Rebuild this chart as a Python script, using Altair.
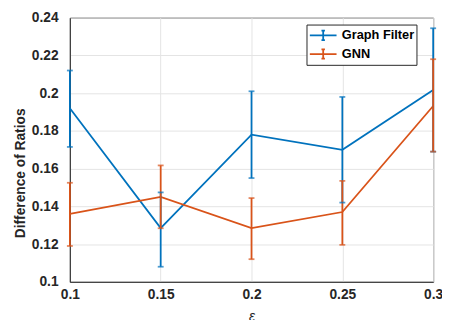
import altair as alt
import pandas as pd

eps = [0.1, 0.15, 0.2, 0.25, 0.3]
series = ["Graph Filter", "GNN"]
gf_mean = [0.192, 0.1285, 0.178, 0.170, 0.2017]
gf_lower = [0.1715, 0.108, 0.155, 0.142, 0.169]
gf_upper = [0.212, 0.1474, 0.201, 0.198, 0.2344]
gnn_mean = [0.136, 0.145, 0.1285, 0.137, 0.1932]
gnn_lower = [0.119, 0.1284, 0.112, 0.1196, 0.169]
gnn_upper = [0.1525, 0.1617, 0.1444, 0.1535, 0.218]
y_ticks = [0.1, 0.12, 0.14, 0.16, 0.18, 0.2, 0.22, 0.24]
colors = ["#0072BD", "#D95319"]

rows = []
for name, m, lo, hi in [(series[0], gf_mean, gf_lower, gf_upper),
                        (series[1], gnn_mean, gnn_lower, gnn_upper)]:
    for e, a, b, c in zip(eps, m, lo, hi):
        rows.append({"eps": e, "series": name, "mean": a, "lower": b, "upper": c})
df = pd.DataFrame(rows)

FONT = "Liberation Sans"
TXT = "#262626"
LW = 1.8

xscale = alt.Scale(domain=[0.1, 0.3], nice=False, zero=False)
yscale = alt.Scale(domain=[0.1, 0.24], nice=False, zero=False)
cscale = alt.Scale(domain=series, range=colors)

xaxis = alt.Axis(values=eps, labelExpr="format(datum.value, '~g')", ticks=False,
                 labelPadding=6, labelOverlap=False, labelBound=False, labelFlush=False,
                 title="ε", titleBaseline="top", titleY=28, titleFontStyle="italic",
                 titleFontWeight="normal", titleFontSize=14)
yaxis = alt.Axis(values=y_ticks, labelExpr="format(datum.value, '~g')", ticks=False,
                 labelPadding=12, labelOverlap=False, labelBound=False, labelFlush=False,
                 labelSeparation=0,
                 title="Difference of Ratios", titleX=-50, titleY=158,
                 titleAngle=270, titleAlign="center", titleBaseline="middle",
                 titleFontSize=14)

X = alt.X("eps:Q", scale=xscale, axis=xaxis)

base = alt.Chart(df)

legend = alt.Legend(
    title=None, orient="none", legendX=241, legendY=7,
    fillColor="white", strokeColor=TXT, padding=2, rowPadding=1,
    labelFontSize=13, labelFontWeight="bold", labelColor="black", labelFont=FONT,
    symbolType="M-1.7,0H1.7M0,-0.6V0.6M-0.22,-0.6H0.22M-0.22,0.6H0.22",
    symbolSize=256, symbolStrokeWidth=LW, labelOffset=10, symbolOffset=6,
)

lines = base.mark_line(strokeWidth=LW).encode(
    x=X,
    y=alt.Y("mean:Q", scale=yscale, axis=yaxis),
    color=alt.Color("series:N", scale=cscale, legend=legend, sort=series),
    detail="series:N",
)

rules = base.mark_rule(strokeWidth=LW).encode(
    x=X, y=alt.Y("lower:Q", scale=yscale, axis=yaxis), y2="upper:Q",
    color=alt.Color("series:N", scale=cscale, legend=None),
)
caps_lo = base.mark_tick(orient="horizontal", size=6, thickness=LW).encode(
    x=X, y=alt.Y("lower:Q", scale=yscale, axis=yaxis),
    color=alt.Color("series:N", scale=cscale, legend=None),
)
caps_hi = base.mark_tick(orient="horizontal", size=6, thickness=LW).encode(
    x=X, y=alt.Y("upper:Q", scale=yscale, axis=yaxis),
    color=alt.Color("series:N", scale=cscale, legend=None),
)

chart = alt.layer(lines, rules, caps_lo, caps_hi).properties(
    width=370, height=269,
    autosize=alt.AutoSizeParams(type="none"),
    padding={"left": 63, "top": 7, "right": 9, "bottom": 36},
).configure(background="white").configure_view(
    stroke=TXT, strokeWidth=1
).configure_axis(
    labelFont=FONT, labelFontSize=14, labelFontWeight="bold", labelColor=TXT,
    titleFont=FONT, titleFontWeight="bold", titleColor=TXT,
    gridColor="#e3e3e3", gridWidth=1, domainColor=TXT, domainWidth=1,
)

chart.save("out.html", embed_options={"renderer": "svg", "actions": False})
